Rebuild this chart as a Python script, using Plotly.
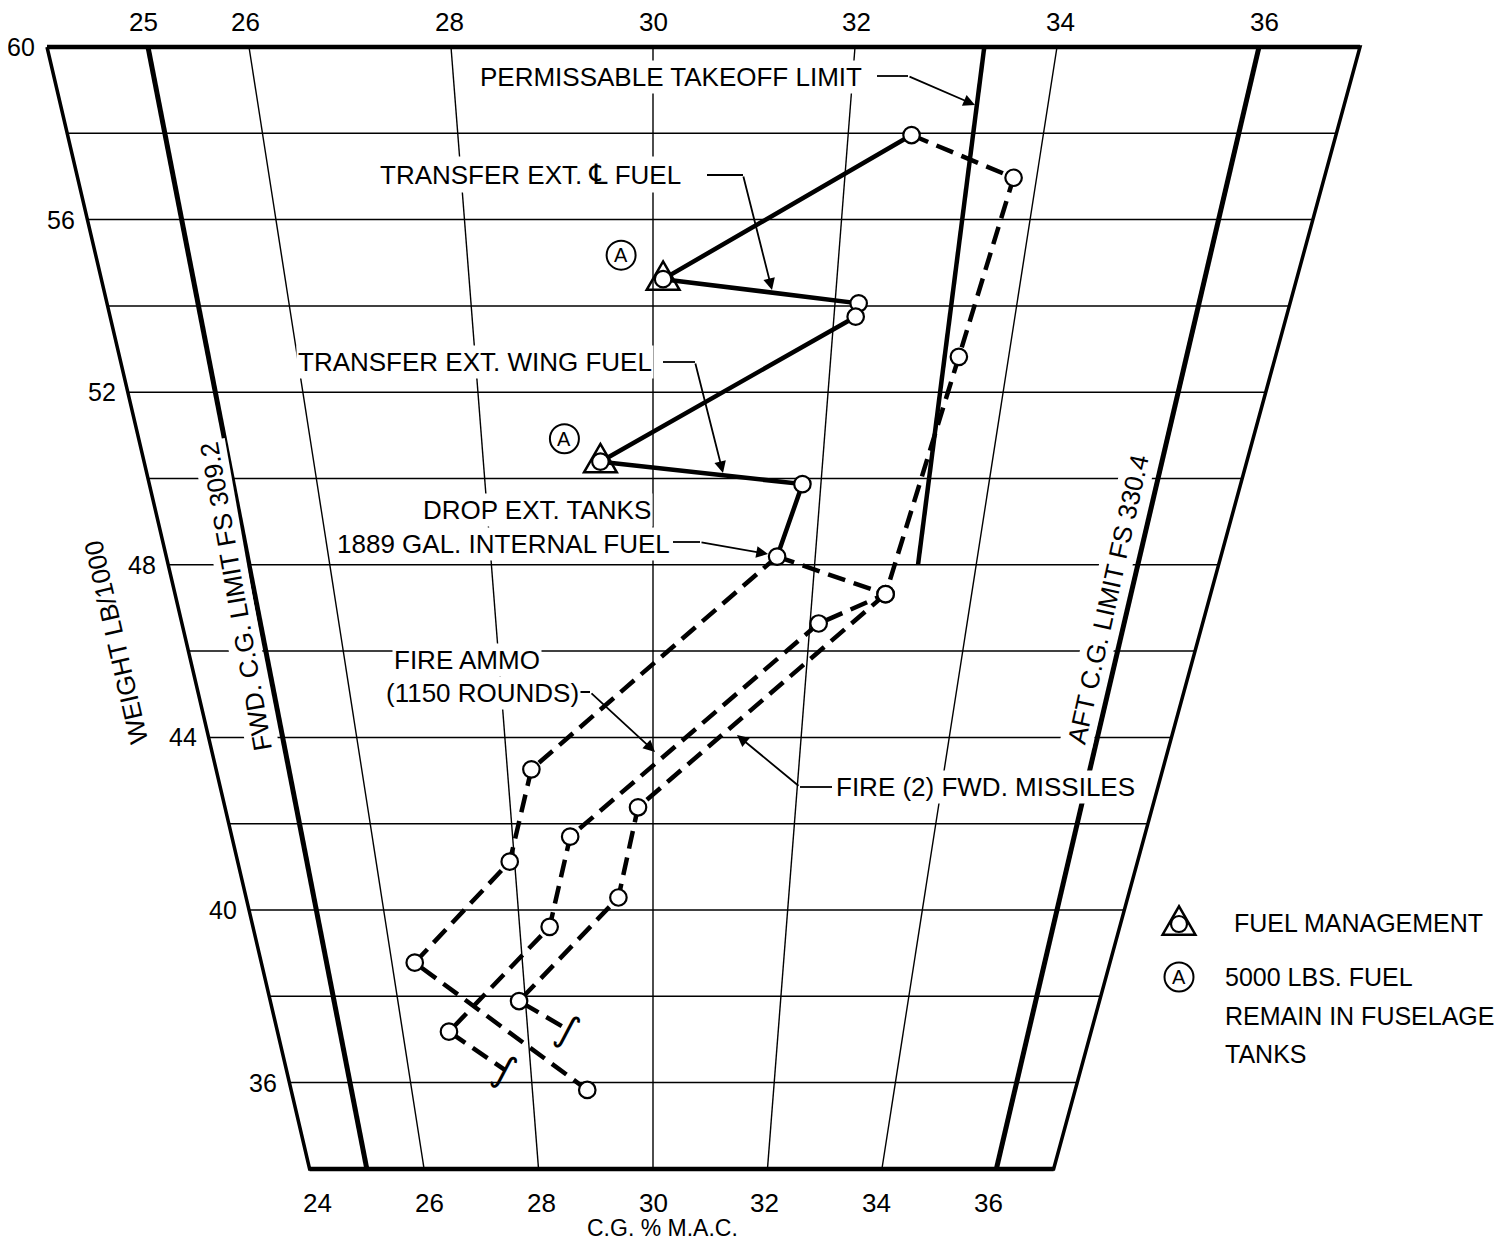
import plotly.graph_objects as go

# ------------------------------------------------------------------ data
weight_grid = [34, 36, 38, 40, 42, 44, 46, 48, 50, 52, 54, 56, 58, 60]
weight_tick_labels = [36, 40, 44, 48, 52, 56, 60]
mac_top_labels = [25, 26, 28, 30, 32, 34, 36]
mac_bottom_labels = [24, 26, 28, 30, 32, 34, 36]
mac_thin_lines = [26, 28, 30, 32, 34]
mac_edge_lines = [24, 37]
mac_limit_lines = [25, 36]          # FWD / AFT C.G. limits
weight_min, weight_max = 34, 60

takeoff_limit_mac = [33.28, 33.28]
takeoff_limit_weight = [48, 60]

# solid fuel-management path
solid_mac = [32.65, 30.11, 32.26, 32.24, 29.38, 31.78, 31.53]
solid_weight = [57.96, 54.62, 54.06, 53.75, 50.39, 49.87, 48.19]

# dashed paths
alt_mac = [32.65, 33.76, 33.44, 32.92]
alt_weight = [57.96, 56.97, 52.82, 47.32]
drop_mac = [31.53, 32.92, 32.11]
drop_weight = [48.19, 47.32, 46.64]
path_a_mac = [31.53, 28.33, 27.93, 26.35, 28.91]
path_a_weight = [48.19, 43.26, 41.12, 38.78, 35.83]
path_b_mac = [32.11, 28.82, 28.45, 26.74, 27.58]
path_b_weight = [46.64, 41.70, 39.61, 37.18, 36.29]
path_c_mac = [32.92, 29.79, 29.49, 27.90, 28.65]
path_c_weight = [47.32, 42.38, 40.29, 37.89, 37.22]

fuel_mgmt_mac = [30.11, 29.38]
fuel_mgmt_weight = [54.62, 50.39]

# ------------------------------------------------------------------ scale
PAGE_W, PAGE_H = 1509, 1254
BODY = 8                       # default page margin around the figure
FW, FH = PAGE_W - 2 * BODY, PAGE_H - 2 * BODY
X30 = 653.0                    # page pixel of the 30 % MAC line
PX_PER_U = 101.0               # pixels per % MAC at 60,000 lb
Y60 = 47.0                     # page pixel of 60,000 lb
PX_PER_KLB = 43.15


def u(m, w):
    """moment-like horizontal coordinate for a CG (% MAC) at weight w"""
    return (m - 30.0) * w / 60.0


def px(xp, yp):
    """page pixel -> data coordinates"""
    return (xp - X30) / PX_PER_U, 60 - (yp - Y60) / PX_PER_KLB


x_range = [px(BODY, 0)[0], px(BODY + FW, 0)[0]]
y_range = [px(0, BODY + FH)[1], px(0, BODY)[1]]

FONT = "Liberation Sans, Arial, Helvetica, sans-serif"
fig = go.Figure()


def add_line(xs, ys, width, dash=None):
    fig.add_trace(go.Scatter(x=xs, y=ys, mode='lines',
                             line=dict(color='black', width=width, dash=dash),
                             hoverinfo='skip', showlegend=False))


# horizontal grid
gx, gy = [], []
for w in weight_grid:
    if w in (weight_min, weight_max):
        continue
    gx += [u(mac_edge_lines[0], w), u(mac_edge_lines[1], w), None]
    gy += [w, w, None]
add_line(gx, gy, 1.5)

# thin constant-MAC lines
tx, ty = [], []
for m in mac_thin_lines:
    tx += [u(m, weight_min), u(m, weight_max), None]
    ty += [weight_min, weight_max, None]
add_line(tx, ty, 1.4)

# outline
lo, hi = mac_edge_lines
add_line([u(lo, weight_max), u(hi, weight_max), u(hi, weight_min), u(lo, weight_min), u(lo, weight_max)],
         [weight_max, weight_max, weight_min, weight_min, weight_max], 3.5)
add_line([u(lo, weight_max), u(hi, weight_max)], [weight_max, weight_max], 4.5)
add_line([u(lo, weight_min), u(hi, weight_min)], [weight_min, weight_min], 4.5)

# FWD / AFT limits
for m in mac_limit_lines:
    add_line([u(m, weight_min), u(m, weight_max)], [weight_min, weight_max], 5)

# permissible takeoff limit
add_line([u(m, w) for m, w in zip(takeoff_limit_mac, takeoff_limit_weight)], takeoff_limit_weight, 4.5)

# data paths
DASH = "18px,9px"
add_line([u(m, w) for m, w in zip(solid_mac, solid_weight)], solid_weight, 4.5)
for pm, pw in [(alt_mac, alt_weight), (drop_mac, drop_weight), (path_a_mac, path_a_weight),
               (path_b_mac, path_b_weight), (path_c_mac, path_c_weight)]:
    add_line([u(m, w) for m, w in zip(pm, pw)], pw, 4.5, DASH)

# circles
circ_m = solid_mac + alt_mac[1:] + drop_mac[1:] + path_a_mac[1:] + path_b_mac[1:-1] + path_c_mac[1:-1]
circ_w = solid_weight + alt_weight[1:] + drop_weight[1:] + path_a_weight[1:] + path_b_weight[1:-1] + path_c_weight[1:-1]
fig.add_trace(go.Scatter(x=[u(m, w) for m, w in zip(circ_m, circ_w)], y=circ_w, mode='markers',
                         marker=dict(symbol='circle', size=16.5, color='white',
                                     line=dict(color='black', width=2.2)),
                         hoverinfo='skip', showlegend=False, cliponaxis=False))

TRI = "M -16.4,-10.7 L 16.4,-10.7 L 0,17.7 Z"
for m, w in zip(fuel_mgmt_mac, fuel_mgmt_weight):
    fig.add_shape(type='path', xref='x', yref='y', xsizemode='pixel', ysizemode='pixel',
                  xanchor=u(m, w), yanchor=w, path=TRI, line=dict(color='black', width=2.5))

# circled A labels next to the fuel-management points
for (m, w), (dx, dy) in zip(zip(fuel_mgmt_mac, fuel_mgmt_weight), [(-42, 24), (-36, 23)]):
    fig.add_shape(type='circle', xref='x', yref='y', xsizemode='pixel', ysizemode='pixel',
                  xanchor=u(m, w), yanchor=w, x0=dx - 14.5, x1=dx + 14.5, y0=dy - 14.5, y1=dy + 14.5,
                  line=dict(color='black', width=2), fillcolor='white')
    fig.add_annotation(x=u(m, w), y=w, xref='x', yref='y', text='A', showarrow=False,
                       xshift=dx, yshift=dy, font=dict(family=FONT, size=20, color='black'))

# break marks at ends of two paths
for pm, pw in [(path_b_mac, path_b_weight), (path_c_mac, path_c_weight)]:
    fig.add_annotation(x=u(pm[-1], pw[-1]), y=pw[-1], xref='x', yref='y', text='∫',
                       showarrow=False, textangle=25,
                       font=dict(family="DejaVu Sans", size=38, color='black'))


def text(xp, yp, s, size=26, xanchor='center', angle=0, bg='white'):
    x, y = px(xp, yp)
    fig.add_annotation(x=x, y=y, xref='x', yref='y', text=s, showarrow=False, xanchor=xanchor,
                       yanchor='middle', textangle=angle, bgcolor=bg, borderpad=1,
                       font=dict(family=FONT, size=size, color='black'))


def elbow(h_from, h_to, tip):
    x0, y0 = px(*h_from)
    x1, y1 = px(*h_to)
    fig.add_shape(type='line', xref='x', yref='y', x0=x0, y0=y0, x1=x1, y1=y1,
                  line=dict(color='black', width=1.8))
    tx_, ty_ = px(*tip)
    fig.add_annotation(x=tx_, y=ty_, ax=x1, ay=y1, axref='x', ayref='y', xref='x', yref='y',
                       text='', showarrow=True, arrowhead=2, arrowsize=1.3, arrowwidth=1.8,
                       arrowcolor='black', standoff=0, startstandoff=0)


# tick labels (placed along the extension of each scale line)
for m in mac_top_labels:
    w = weight_max + 25 / PX_PER_KLB
    fig.add_annotation(x=u(m, w), y=w, xref='x', yref='y', text=str(m), showarrow=False,
                       font=dict(family=FONT, size=26, color='black'))
for m in mac_bottom_labels:
    w = weight_min - 34 / PX_PER_KLB
    fig.add_annotation(x=u(m, w), y=w, xref='x', yref='y', text=str(m), showarrow=False,
                       font=dict(family=FONT, size=26, color='black'))
for w in weight_tick_labels:
    fig.add_annotation(x=u(mac_edge_lines[0], w), y=w, xref='x', yref='y', text=str(w),
                       showarrow=False, xanchor='right', xshift=-10,
                       font=dict(family=FONT, size=25, color='black'))

# axis titles
text(662, 1228, "C.G. % M.A.C.", 23, bg=None)
text(116, 642, "WEIGHT LB/1000", 26, angle=-103)
text(236, 597, "FWD. C.G. LIMIT FS 309.2", 26, angle=-100)
text(1108, 600, "AFT C.G. LIMIT FS 330.4", 26, angle=-77.5)

# callouts
CL = '<span style="font-family:DejaVu Sans;font-size:28px">℄</span>'
text(671, 77, "PERMISSABLE TAKEOFF LIMIT", 26)
elbow((877, 76), (908, 76), (975, 105))
text(530, 174, "TRANSFER EXT. " + CL + " FUEL", 26)
elbow((707, 175), (743, 175), (772, 290))
text(475, 362, "TRANSFER EXT. WING FUEL", 26)
elbow((663, 362), (695, 362), (723, 473))
text(537, 510, "DROP EXT. TANKS", 26)
text(503, 544, "1889 GAL. INTERNAL FUEL", 26)
elbow((673, 542), (700, 542), (768, 554))
text(467, 660, "FIRE AMMO", 26)
text(482, 693, "(1150 ROUNDS)", 26)
elbow((555, 692), (590, 692), (655, 752))
text(985, 787, "FIRE (2) FWD. MISSILES", 26)
elbow((832, 787), (800, 787), (737, 735))

# legend
lx, ly = px(1179, 924)
fig.add_shape(type='path', xref='x', yref='y', xsizemode='pixel', ysizemode='pixel',
              xanchor=lx, yanchor=ly, path=TRI, line=dict(color='black', width=2.5))
fig.add_shape(type='circle', xref='x', yref='y', xsizemode='pixel', ysizemode='pixel',
              xanchor=lx, yanchor=ly, x0=-8, x1=8, y0=-8, y1=8,
              line=dict(color='black', width=2.2), fillcolor='white')
ax_, ay_ = px(1179, 977)
fig.add_shape(type='circle', xref='x', yref='y', xsizemode='pixel', ysizemode='pixel',
              xanchor=ax_, yanchor=ay_, x0=-14.5, x1=14.5, y0=-14.5, y1=14.5,
              line=dict(color='black', width=2), fillcolor='white')
fig.add_annotation(x=ax_, y=ay_, xref='x', yref='y', text='A', showarrow=False,
                   font=dict(family=FONT, size=20, color='black'))
text(1232, 923, "FUEL MANAGEMENT", 25, xanchor='left', bg=None)
text(1223, 977, "5000 LBS. FUEL", 25, xanchor='left', bg=None)
text(1223, 1016, "REMAIN IN FUSELAGE", 25, xanchor='left', bg=None)
text(1223, 1054, "TANKS", 25, xanchor='left', bg=None)

fig.update_layout(
    width=FW, height=FH, autosize=False,
    margin=dict(l=0, r=0, t=0, b=0, pad=0),
    paper_bgcolor='white', plot_bgcolor='white', showlegend=False,
    xaxis=dict(range=x_range, visible=False, showgrid=False, zeroline=False, fixedrange=True),
    yaxis=dict(range=y_range, visible=False, showgrid=False, zeroline=False, fixedrange=True),
)

fig.write_html("out.html")
